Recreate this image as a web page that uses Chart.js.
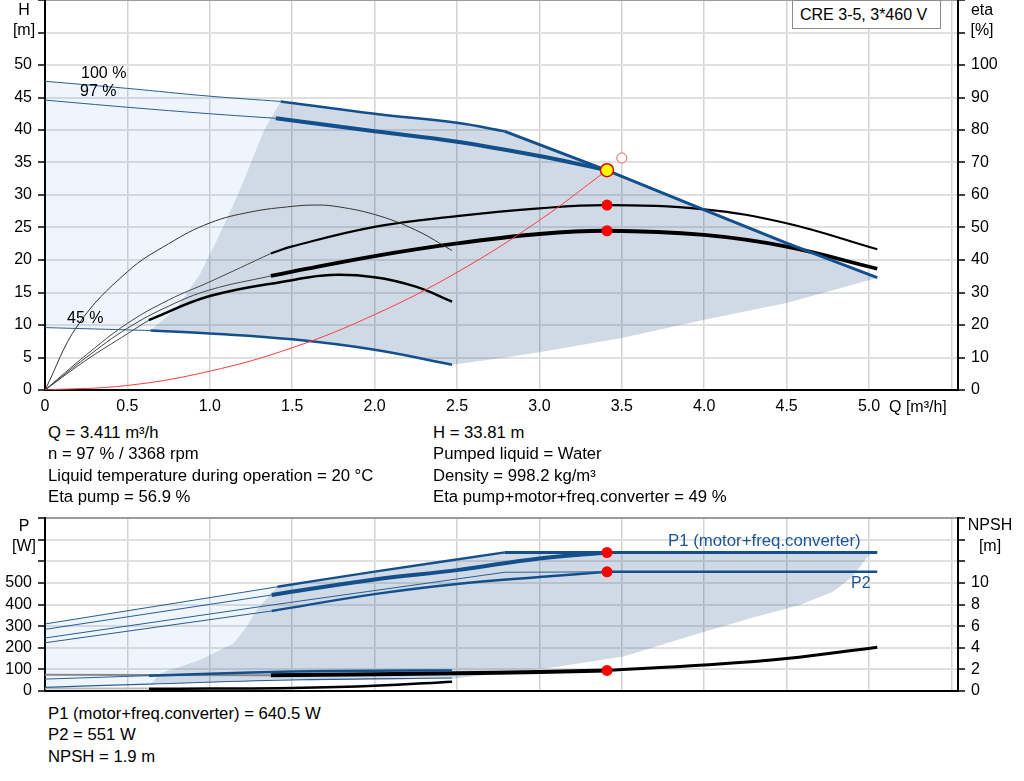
<!DOCTYPE html>
<html lang="en">
<head>
<meta charset="UTF-8">
<title>CRE 3-5, 3*460 V</title>
<script src="https://cdn.jsdelivr.net/npm/chart.js@4"></script>
<style>
  body { margin: 0; background: #fff; font-family: 'Liberation Sans', Arial, sans-serif; }
  #page { position: relative; width: 1024px; height: 781px; overflow: hidden; background: #fff; }
  canvas { position: absolute; left: 0; }
  .t { position: absolute; font-size: 16px; line-height: 18px; white-space: nowrap; color: #000; }
  .info { font-size: 16.7px; }
  .c { transform: translateX(-50%); }
  .blue { color: #1b5594; }
  #model { position: absolute; left: 792px; top: 0; width: 149px; height: 29px; border: 1px solid #8c8c8c;
           background: #fff; font-size: 16px; line-height: 27px; padding-left: 7px; box-sizing: border-box; }
</style>
</head>
<body>
<div id="page">
  <canvas id="qh" width="1024" height="420" style="top:0"></canvas>
  <canvas id="pw" width="1024" height="200" style="top:500px"></canvas>

  <div id="model">CRE 3-5, 3*460 V</div>

  <div class="t c" style="left:24px;top:1px">H</div>
  <div class="t c" style="left:24px;top:21px">[m]</div>
  <div class="t c" style="left:982px;top:1px">eta</div>
  <div class="t c" style="left:982px;top:21px">[%]</div>
  <div class="t" style="left:81px;top:64px">100 %</div>
  <div class="t" style="left:80px;top:82px">97 %</div>
  <div class="t" style="left:67px;top:309px">45 %</div>
  <div class="t" style="left:889px;top:398px">Q [m³/h]</div>

  <div class="t info" style="left:48px;top:424px">Q = 3.411 m³/h</div>
  <div class="t info" style="left:48px;top:445px">n = 97 % / 3368 rpm</div>
  <div class="t info" style="left:48px;top:467px">Liquid temperature during operation = 20 °C</div>
  <div class="t info" style="left:48px;top:488px">Eta pump = 56.9 %</div>
  <div class="t info" style="left:433px;top:424px">H = 33.81 m</div>
  <div class="t info" style="left:433px;top:445px">Pumped liquid = Water</div>
  <div class="t info" style="left:433px;top:467px">Density = 998.2 kg/m³</div>
  <div class="t info" style="left:433px;top:488px">Eta pump+motor+freq.converter = 49 %</div>

  <div class="t c" style="left:24px;top:517px">P</div>
  <div class="t c" style="left:24px;top:537px">[W]</div>
  <div class="t c" style="left:990px;top:516px">NPSH</div>
  <div class="t c" style="left:990px;top:537px">[m]</div>
  <div class="t blue" style="left:668px;top:532px;font-size:16.8px">P1 (motor+freq.converter)</div>
  <div class="t blue" style="left:851px;top:574px">P2</div>

  <div class="t info" style="left:48px;top:705px">P1 (motor+freq.converter) = 640.5 W</div>
  <div class="t info" style="left:48px;top:726px">P2 = 551 W</div>
  <div class="t info" style="left:48px;top:748px">NPSH = 1.9 m</div>
</div>

<script>
// axis ticks
const qTicks = [0, 0.5, 1, 1.5, 2, 2.5, 3, 3.5, 4, 4.5, 5, 5.5];
const qTickLabels = ['0', '0.5', '1.0', '1.5', '2.0', '2.5', '3.0', '3.5', '4.0', '4.5', '5.0', ''];
const hTicks = [0, 5, 10, 15, 20, 25, 30, 35, 40, 45, 50, 55, 60];
const hTickLabels = ['0', '5', '10', '15', '20', '25', '30', '35', '40', '45', '50', '', ''];
const etaTicks = [0, 10, 20, 30, 40, 50, 60, 70, 80, 90, 100, 110, 120];
const etaTickLabels = ['0', '10', '20', '30', '40', '50', '60', '70', '80', '90', '100', '', ''];
const pTicks = [0, 100, 200, 300, 400, 500, 600, 700, 800];
const pTickLabels = ['0', '100', '200', '300', '400', '500', '', '', ''];
const npshTicks = [0, 2, 4, 6, 8, 10, 12, 14, 16];
const npshTickLabels = ['0', '2', '4', '6', '8', '10', '', '', ''];

// Q-H curves [Q m3/h, H m]
const h100Thin = [[0, 47.5], [0.5, 46.4], [1.0, 45.2], [1.43, 44.4]];
const h100Thick = [[1.43, 44.4], [2.0, 42.5], [2.5, 41.1], [2.79, 39.8]];
const hMaxDrop = [[2.79, 39.8], [3.41, 33.8], [4.0, 27.7], [4.5, 22.6], [5.05, 17.3]];
const h97Thin = [[0, 44.6], [0.5, 43.5], [1.0, 42.5], [1.4, 41.8]];
const h97Thick = [[1.4, 41.8], [2.0, 39.8], [2.5, 38.2], [3.0, 36.0], [3.41, 33.81]];
const h45Thin = [[0, 9.6], [0.5, 9.25], [0.64, 9.15]];
const h45Thick = [[0.64, 9.15], [1.0, 8.7], [1.5, 7.8], [2.0, 6.2], [2.47, 3.9]];
const systemCurve = [[0, 0], [0.5, 0.7], [1.0, 2.9], [1.5, 6.5], [2.0, 11.6], [2.5, 18.1], [3.0, 26.1], [3.41, 33.81]];

// efficiency curves [Q, eta %]
const etaPump45 = [[0, 0], [0.2, 20], [0.5, 36.4], [0.75, 45], [1.0, 51.4], [1.25, 54.8], [1.5, 56.5], [1.63, 56.9],
  [1.75, 56.6], [2.0, 54], [2.25, 49.2], [2.47, 42.9]];
const etaTot45Thin = [[0, 0], [0.25, 9.2], [0.5, 17.3], [0.63, 21.5]];
const etaTot45 = [[0.63, 21.5], [1.0, 28.9], [1.5, 33.8], [1.73, 35.4], [2.0, 34.7], [2.25, 31.8], [2.47, 27.2]];
const etaPump97Thin = [[0, 0], [0.25, 10.8], [0.5, 20.5], [0.75, 27.7], [1.0, 33.3], [1.37, 42]];
const etaPump97 = [[1.37, 42], [1.5, 44.2], [2.0, 50.2], [2.5, 53.5], [3.0, 55.9], [3.41, 56.9], [4.0, 55.6], [4.5, 51.3], [5.05, 43.3]];
const etaTot97Thin = [[0, 0], [0.25, 10], [0.5, 19], [0.75, 25.8], [1.0, 30.8], [1.37, 35.1]];
const etaTot97 = [[1.37, 35.1], [1.5, 36.4], [2.0, 41.2], [2.5, 45.1], [3.0, 48], [3.41, 49], [4.0, 47.7], [4.5, 44.1], [5.05, 37.3]];

// duty points
const dutyH = [[3.41, 33.81]];
const dutyEta = [[3.41, 56.9], [3.41, 49]];
const requestedH = [[3.5, 35.7]];

// operating ranges (outline, Q-H)
const rangeLowSpeed = [[0, 47.5], [0.5, 46.4], [1.0, 45.2], [1.43, 44.4], [1.33, 40], [1.25, 35], [1.17, 30], [1.04, 22.9],
  [0.94, 17.8], [0.8, 12.6], [0.64, 9.15], [0.5, 9.25], [0, 9.6]];
const rangeMain = [[1.43, 44.4], [2.0, 42.5], [2.5, 41.1], [2.79, 39.8], [3.41, 33.8], [4.0, 27.7], [4.5, 22.6],
  [5.05, 17.3], [5.0, 16.9], [4.5, 13.4], [4.0, 10.8], [3.5, 8.0], [3.0, 5.8], [2.76, 4.9], [2.47, 3.9], [2.0, 6.2],
  [1.5, 7.8], [1.0, 8.7], [0.64, 9.15], [0.8, 12.6], [0.94, 17.8], [1.04, 22.9], [1.17, 30], [1.25, 35], [1.33, 40]];

// power curves [Q, P W]
const p1Max100Thin = [[0, 310], [1.41, 482]];
const p1Max100 = [[1.41, 482], [2.0, 552], [2.79, 641]];
const p1Flat = [[2.79, 641], [3.41, 640.5], [5.05, 640.5]];
const p1Speed97Thin = [[0, 285], [1.375, 444]];
const p1Speed97 = [[1.375, 444], [2.0, 516], [2.5, 559], [3.0, 613], [3.41, 640.5]];
const p2Max100Thin = [[0, 245], [1.37, 397], [2.79, 549], [3.41, 551]];
const p2Tail = [[3.41, 551], [5.05, 551]];
const p2Speed97Thin = [[0, 223], [1.375, 370]];
const p2Speed97 = [[1.375, 370], [2.0, 448], [2.5, 495], [3.0, 527], [3.41, 551]];
const p1Speed45Thin = [[0, 55], [0.63, 71]];
const p1Speed45 = [[0.63, 71], [1.0, 80], [1.5, 90], [2.0, 94], [2.47, 95]];
const p2Speed45 = [[0, 17], [0.63, 32], [1.55, 52], [2.47, 60]];
const pLowThin = [[0, 11], [0.63, 11]];
const pLow = [[0.63, 10], [1.0, 11], [1.5, 14], [2.0, 24], [2.47, 43]];

// NPSH [Q, m]
const npshThin = [[0, 1.5], [1.37, 1.45]];
const npsh = [[1.37, 1.45], [2.0, 1.55], [2.5, 1.65], [3.0, 1.75], [3.41, 1.9]];
const npshTail = [[3.41, 1.9], [4.0, 2.4], [4.5, 3.0], [5.05, 4.05]];

const dutyP = [[3.41, 640.5], [3.41, 551]];
const dutyNpsh = [[3.41, 1.9]];

// operating ranges (outline, Q-P)
const pRangeLowSpeed = [[0, 310], [1.41, 482], [1.284, 374], [1.224, 297], [1.143, 220], [0.94, 143], [0.7, 82], [0.64, 32], [0, 17]];
const pRangeMain = [[1.41, 482], [2.0, 552], [2.79, 641], [5.01, 641], [4.9, 528], [4.78, 459], [4.58, 398], [4.28, 336],
  [3.97, 267], [3.51, 160], [3.0, 100], [2.76, 82], [2.47, 57], [1.55, 50], [0.64, 32], [0.7, 82], [0.94, 143],
  [1.143, 220], [1.224, 297], [1.284, 374]];

const BLUE = '#134f8c';
const THIN_BLUE = '#2a5d93';
const LIGHT_FILL = 'rgba(30, 120, 220, 0.075)';
const MAIN_FILL = 'rgba(20, 70, 130, 0.2)';

Chart.defaults.font.family = "'Liberation Sans', Arial, sans-serif";
Chart.defaults.font.size = 16;
Chart.defaults.color = '#000';

const pts = arr => arr.map(([x, y]) => ({ x, y }));

function curve(data, color, width, axis, tension = 0.4) {
  return {
    data: pts(data), yAxisID: axis, showLine: true, borderColor: color, borderWidth: width,
    pointRadius: 0, pointHoverRadius: 0, tension, fill: false, order: 5
  };
}

function area(data, color, axis) {
  return {
    data: pts(data), yAxisID: axis, showLine: true, borderWidth: 0, borderColor: 'transparent',
    backgroundColor: color, pointRadius: 0, tension: 0, fill: 'shape', order: 10
  };
}

function marker(data, fill, stroke, r, bw, axis) {
  return {
    data: pts(data), yAxisID: axis, showLine: false, pointRadius: r, pointHoverRadius: r,
    pointBackgroundColor: fill, pointBorderColor: stroke, pointBorderWidth: bw, order: 0
  };
}

function fixTicks(values) {
  return scale => { scale.ticks = values.map(value => ({ value })); };
}

function qAxis(showLabels, height) {
  return {
    type: 'linear', min: 0, max: 5.54,
    afterBuildTicks: fixTicks(qTicks),
    ticks: { display: showLabels, callback: (v, i) => qTickLabels[i], padding: 7, maxRotation: 0, autoSkip: false },
    grid: { color: '#d3d3d3', lineWidth: 1.5, drawTicks: false },
    border: { color: '#000', width: 2 },
    afterFit: s => { s.height = height; s.paddingLeft = 0; s.paddingRight = 0; }
  };
}

function valueAxis(position, max, values, labels, width, onChart) {
  return {
    type: 'linear', position, min: 0, max,
    afterBuildTicks: fixTicks(values),
    ticks: { callback: (v, i) => labels[i], padding: 6, autoSkip: false },
    grid: {
      drawOnChartArea: onChart,
      color: c => (c.tick && c.tick.value === max ? '#9c9c9c' : '#e0e0e0'),
      lineWidth: 2, tickLength: 7, tickColor: '#000', tickWidth: 1.5
    },
    border: { color: '#000', width: 2 },
    afterFit: s => { s.width = width; s.paddingTop = 0; s.paddingBottom = 0; }
  };
}

const baseOptions = {
  responsive: false, animation: false, events: [],
  plugins: { legend: { display: false }, tooltip: { enabled: false } }
};

new Chart(document.getElementById('qh'), {
  type: 'scatter',
  data: {
    datasets: [
      marker(dutyH, '#ffff00', '#e00000', 6.5, 1.5, 'y'),
      marker(dutyEta, '#ff0000', '#ff0000', 5.5, 0, 'y2'),
      marker(requestedH, '#ffffff', '#f06060', 5, 1, 'y'),
      curve(systemCurve, '#ff3b3b', 1, 'y'),
      curve(h100Thin, THIN_BLUE, 1, 'y'),
      curve(h100Thick, BLUE, 2.5, 'y'),
      curve(hMaxDrop, BLUE, 3, 'y', 0),
      curve(h97Thin, THIN_BLUE, 1, 'y'),
      curve(h97Thick, BLUE, 4, 'y'),
      curve(h45Thin, THIN_BLUE, 1, 'y'),
      curve(h45Thick, BLUE, 2.5, 'y'),
      curve(etaPump45, '#333', 1, 'y2'),
      curve(etaTot45Thin, '#444', 1, 'y2'),
      curve(etaTot45, '#000', 2.5, 'y2'),
      curve(etaPump97Thin, '#444', 1, 'y2'),
      curve(etaPump97, '#000', 2.2, 'y2'),
      curve(etaTot97Thin, '#444', 1, 'y2'),
      curve(etaTot97, '#000', 3.8, 'y2'),
      area(rangeLowSpeed, LIGHT_FILL, 'y'),
      area(rangeMain, MAIN_FILL, 'y')
    ]
  },
  options: {
    ...baseOptions,
    layout: { autoPadding: false, padding: 0 },
    scales: {
      x: qAxis(true, 30),
      y: valueAxis('left', 60, hTicks, hTickLabels, 45, true),
      y2: valueAxis('right', 120, etaTicks, etaTickLabels, 66, false)
    }
  }
});

new Chart(document.getElementById('pw'), {
  type: 'scatter',
  data: {
    datasets: [
      marker(dutyP, '#ff0000', '#ff0000', 5.5, 0, 'y'),
      marker(dutyNpsh, '#ff0000', '#ff0000', 5.5, 0, 'y2'),
      curve(p1Max100Thin, THIN_BLUE, 1, 'y', 0),
      curve(p1Max100, BLUE, 2.5, 'y'),
      curve(p1Flat, BLUE, 3, 'y', 0),
      curve(p1Speed97Thin, THIN_BLUE, 1, 'y', 0),
      curve(p1Speed97, BLUE, 4, 'y'),
      curve(p2Max100Thin, THIN_BLUE, 1, 'y', 0),
      curve(p2Tail, BLUE, 2.5, 'y', 0),
      curve(p2Speed97Thin, THIN_BLUE, 1, 'y', 0),
      curve(p2Speed97, BLUE, 2.5, 'y'),
      curve(p1Speed45Thin, THIN_BLUE, 1, 'y', 0),
      curve(p1Speed45, BLUE, 2.5, 'y'),
      curve(p2Speed45, THIN_BLUE, 1.2, 'y'),
      curve(pLowThin, '#bbbbbb', 2, 'y', 0),
      curve(pLow, '#000', 2.5, 'y'),
      curve(npshThin, '#888888', 2, 'y2', 0),
      curve(npsh, '#000', 4, 'y2'),
      curve(npshTail, '#000', 3, 'y2'),
      area(pRangeLowSpeed, LIGHT_FILL, 'y'),
      area(pRangeMain, MAIN_FILL, 'y')
    ]
  },
  options: {
    ...baseOptions,
    layout: { autoPadding: false, padding: { top: 18 } },
    scales: {
      x: qAxis(false, 9),
      y: valueAxis('left', 800, pTicks, pTickLabels, 45, true),
      y2: valueAxis('right', 16, npshTicks, npshTickLabels, 66, false)
    }
  }
});
</script>
</body>
</html>
